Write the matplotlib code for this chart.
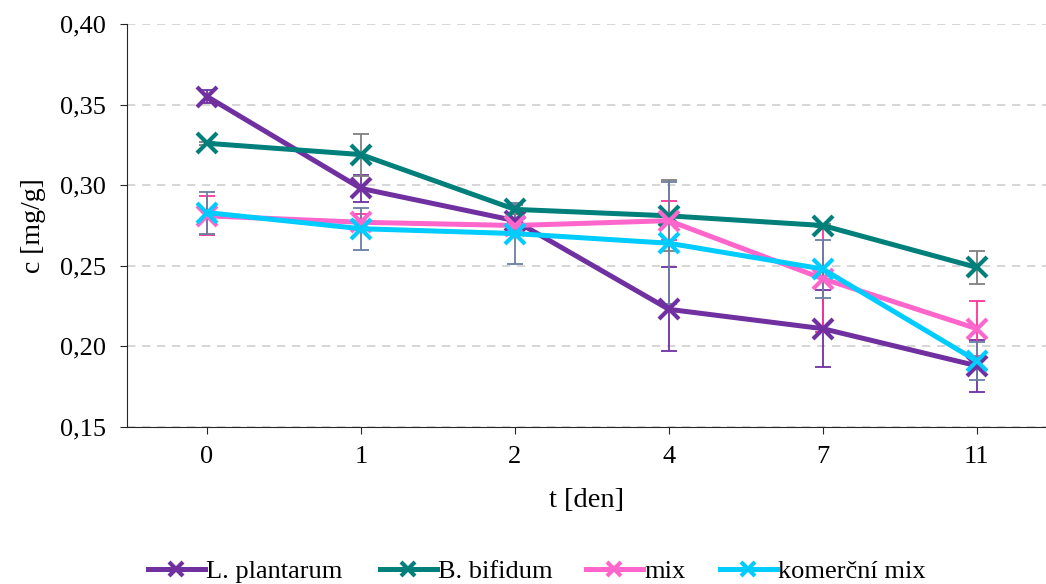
import numpy as np
import matplotlib.pyplot as plt
from matplotlib.ticker import FuncFormatter

plt.rcParams['font.family'] = ['Liberation Serif', 'DejaVu Serif']

days = ['0', '1', '2', '4', '7', '11']

plantarum = [0.355, 0.298, 0.278, 0.223, 0.211, 0.188]
plantarum_err = [0.004, 0.0085, 0.004, 0.026, 0.024, 0.016]

bifidum = [0.326, 0.319, 0.285, 0.281, 0.275, 0.249]
bifidum_err = [0.001, 0.013, 0.003, 0.022, 0.001, 0.010]

mix = [0.281, 0.277, 0.275, 0.278, 0.242, 0.211]
mix_err = [0.012, 0.005, 0.002, 0.012, 0.033, 0.017]

komercni = [0.283, 0.273, 0.270, 0.264, 0.248, 0.191]
komercni_err = [0.013, 0.013, 0.019, 0.038, 0.018, 0.012]

series = [
    ('L. plantarum', plantarum, plantarum_err, '#7030A0', '#7030A0'),
    ('B. bifidum', bifidum, bifidum_err, '#007F7B', '#7F7F7F'),
    ('mix', mix, mix_err, '#FF66CC', '#FF3399'),
    ('komerční mix', komercni, komercni_err, '#00CCFF', '#6A7FA0'),
]
# left edge of each legend entry, px
legend_x = [148, 380, 586, 720]

fig = plt.figure(figsize=(10.46, 5.84), dpi=100)
ax = fig.add_axes([127 / 1046, 1 - 427 / 584, 919 / 1046, 403 / 584])

x = np.arange(len(days))
lines = []
for name, vals, err, col, ecol in series:
    ax.errorbar(x, vals, yerr=err, fmt='none', ecolor=ecol, elinewidth=1.3,
                capsize=6, capthick=1.3, zorder=2)
    ln, = ax.plot(x, vals, color=col, lw=3.6, marker='x', ms=15, mew=3,
                  label=name, zorder=3)
    lines.append(ln)

# category spacing ~154 px, first category at ~207 px
ax.set_xlim(-0.52, len(days) - 0.55)
ax.set_ylim(0.15, 0.40)
ax.set_yticks(np.arange(0.15, 0.401, 0.05))
ax.yaxis.set_major_formatter(FuncFormatter(lambda v, p: f'{v:.2f}'.replace('.', ',')))
ax.set_xticks(x)
ax.set_xticklabels(days)
ax.yaxis.grid(True, ls=(0, (5, 4)), color='#D0D0D0', lw=1.2)
ax.set_axisbelow(True)

for s in ['top', 'right']:
    ax.spines[s].set_visible(False)
ax.spines['left'].set_color('#262626')
ax.spines['bottom'].set_color('#262626')
ax.tick_params(axis='both', labelsize=19, colors='black', length=5, color='#262626')
ax.tick_params(axis='y', pad=10)
ax.tick_params(axis='x', pad=9)

ax.set_xlabel('t [den]', fontsize=20.5, labelpad=14)
ax.set_ylabel('c [mg/g]', fontsize=20, labelpad=10)

for ln, lx in zip(lines, legend_x):
    fig.legend([ln], [ln.get_label()], loc='center left',
               bbox_to_anchor=(lx / 1046, 1 - 571 / 584), frameon=False,
               fontsize=19, handlelength=2.15, handletextpad=0.05,
               borderpad=0, borderaxespad=0, markerscale=0.7)

fig.savefig('out.png', dpi=100)
